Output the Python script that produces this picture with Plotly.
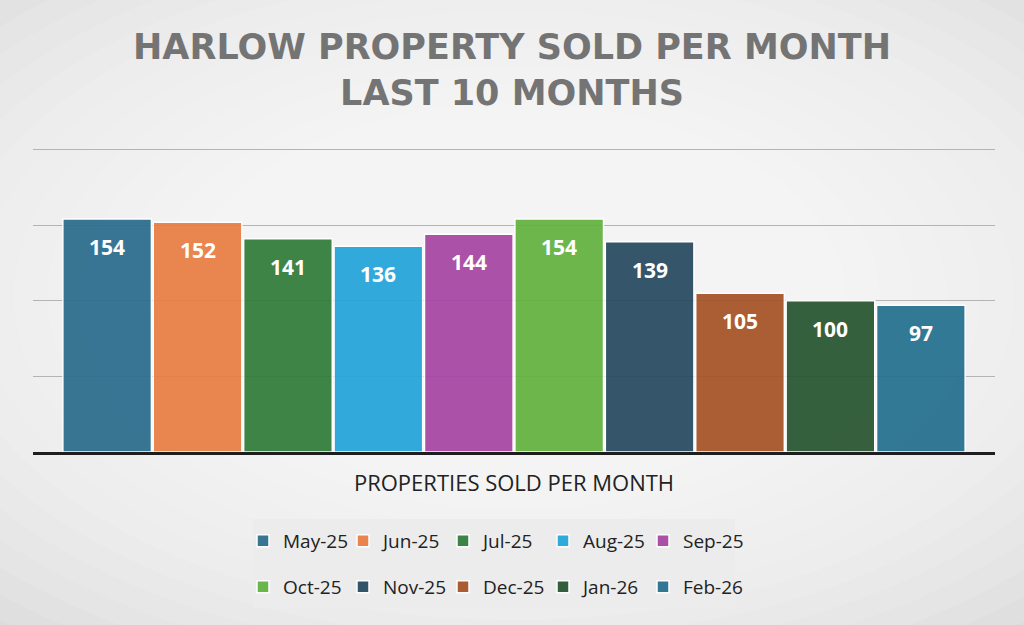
import plotly.graph_objects as go

months = ['May-25', 'Jun-25', 'Jul-25', 'Aug-25', 'Sep-25',
          'Oct-25', 'Nov-25', 'Dec-25', 'Jan-26', 'Feb-26']
sold = [154, 152, 141, 136, 144, 154, 139, 105, 100, 97]
colors = ['#2b6c8d', '#e97d43', '#317c3a', '#24a4da', '#a645a3',
          '#62b23f', '#264a60', '#a65226', '#275530', '#24708f']

fig = go.Figure()

# one trace per month so each gets its own legend entry (Excel style)
for i, (m, v, c) in enumerate(zip(months, sold, colors)):
    fig.add_trace(go.Bar(
        x=[m], y=[v], name=m,
        marker=dict(color=c, line=dict(color='white', width=1.5)),
        opacity=0.93,
        legend='legend' if i < 5 else 'legend2',
        hoverinfo='x+y',
    ))

# value labels just under the top of each bar
for m, v in zip(months, sold):
    fig.add_annotation(x=m, y=v, yshift=-28, text=str(v), showarrow=False,
                       font=dict(family='Open Sans', size=21, color='white', weight='bold'))

# soft vignette background
n = 14
for k in range(n):
    r = 0.035 * k
    fig.add_shape(type='circle', xref='paper', yref='paper', layer='below',
                  x0=-0.3 + r, x1=1.3 - r, y0=-0.9 + r * 1.7, y1=1.9 - r * 1.7,
                  fillcolor='white', opacity=0.1, line_width=0)

# legend box
fig.add_shape(type='rect', xref='paper', yref='paper', layer='below',
              x0=(253 - 33) / 962, x1=(735 - 33) / 962,
              y0=(452 - 608) / 310, y1=(452 - 519) / 310,
              fillcolor='#ececec', line_width=0)

legend_style = dict(orientation='h', bgcolor='rgba(0,0,0,0)', xanchor='left', yanchor='middle',
                    entrywidth=55, entrywidthmode='pixels', itemclick=False,
                    font=dict(family='Open Sans', size=19, color='#222222'))

fig.update_layout(
    width=1024, height=625,
    margin=dict(l=33, r=29, t=142, b=173),
    paper_bgcolor='#dcdcdc',
    plot_bgcolor='rgba(0,0,0,0)',
    barmode='group',
    bargap=0.02,
    title=dict(text='HARLOW PROPERTY SOLD PER MONTH<br>LAST 10 MONTHS',
               xref='container', x=0.5, xanchor='center',
               yref='container', y=1 - 59 / 625, yanchor='top',
               font=dict(family='DejaVu Sans', size=35, color='#747474', weight='bold')),
    xaxis=dict(showticklabels=False, ticks='', range=[-0.82, 9.82],
               showline=True, linecolor='#1e1e1e', linewidth=3,
               title=dict(text='PROPERTIES SOLD PER MONTH', standoff=22,
                          font=dict(family='Open Sans', size=22, color='#222222'))),
    yaxis=dict(range=[0, 205], dtick=50, showticklabels=False, ticks='',
               showgrid=True, gridcolor='#b4b4b4', gridwidth=1, zeroline=False),
    legend=dict(x=(243 - 33) / 962, y=(452 - 541) / 310, **legend_style),
    legend2=dict(x=(243 - 33) / 962, y=(452 - 587) / 310, **legend_style),
)

fig.write_html('out.html', config={'displayModeBar': False},
               post_script="document.body.style.margin='0';")
